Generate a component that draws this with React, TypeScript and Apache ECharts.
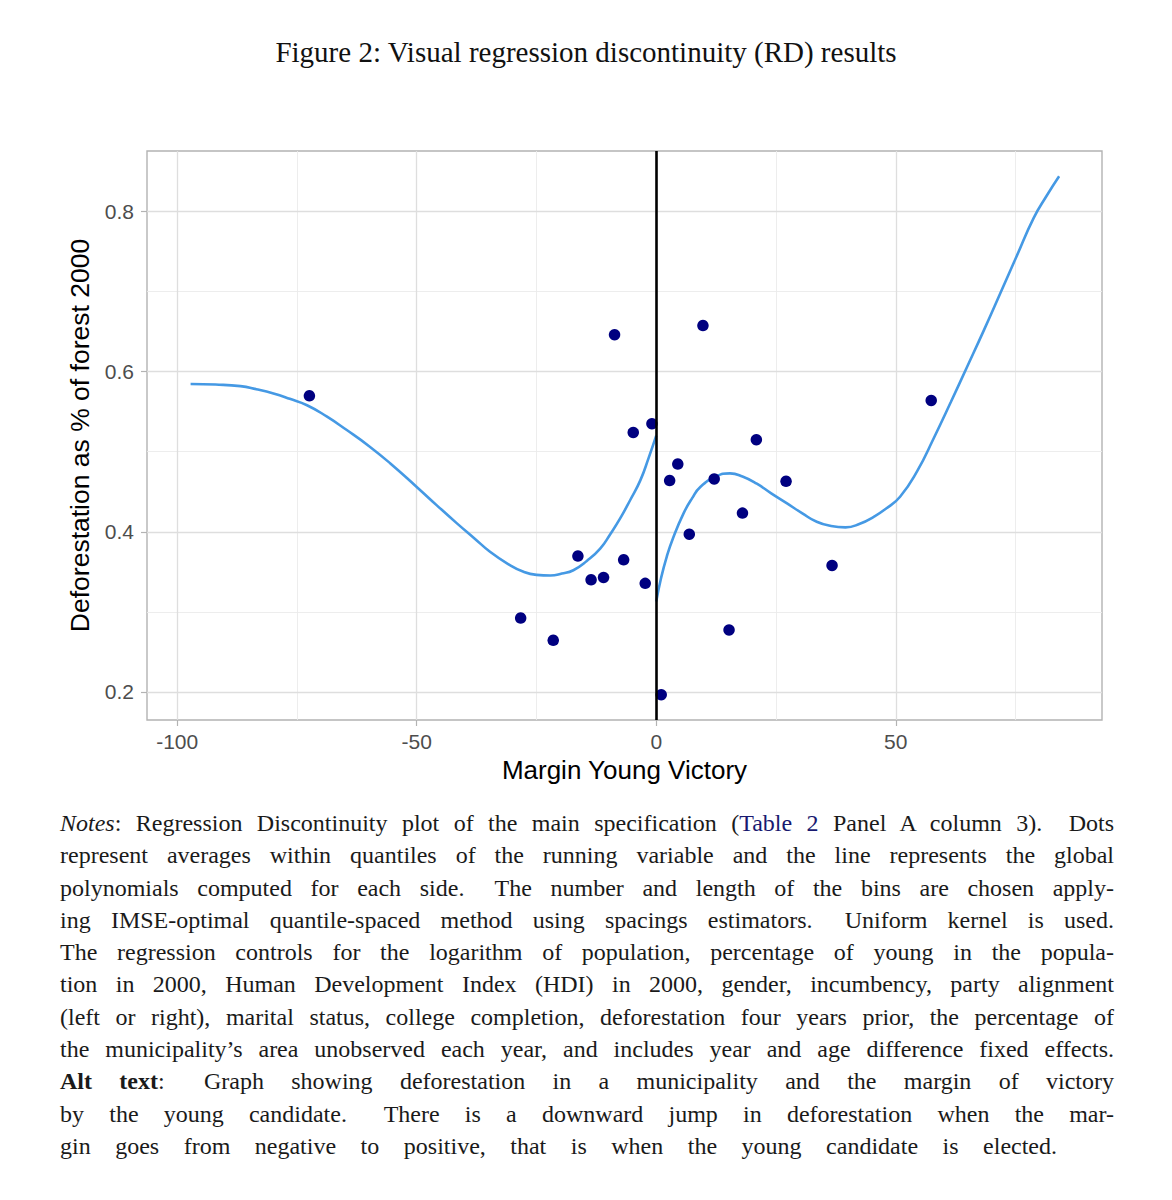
import React, { useEffect, useRef } from "react";
import * as echarts from "echarts";

// ---- Text ----
const TITLE = "Figure 2: Visual regression discontinuity (RD) results";
const X_TITLE = "Margin Young Victory";
const Y_TITLE = "Deforestation as % of forest 2000";

// ---- Axis ticks ----
const X_TICKS = [-100, -50, 0, 50];
const X_MINOR = [-75, -25, 25, 75];
const Y_TICKS = [0.2, 0.4, 0.6, 0.8];
const Y_MINOR = [0.3, 0.5, 0.7];
const X_MIN = -106.3;
const X_MAX = 93.05;
const Y_MIN = 0.165;
const Y_MAX = 0.8754;
const CUTOFF = 0;

// ---- Bin averages (dots) ----
const DOT_X = [
  -72.4, -28.3, -21.5, -16.35, -13.6, -11.0, -8.7, -6.8, -4.8, -2.3, -0.9,
  1.04, 2.8, 4.5, 6.9, 9.75, 12.1, 15.2, 18.0, 20.9, 27.1, 36.7, 57.4,
];
const DOT_Y = [
  0.5697, 0.2923, 0.2645, 0.3697, 0.34, 0.343, 0.646, 0.365, 0.524, 0.3356, 0.535,
  0.1966, 0.464, 0.4845, 0.397, 0.6575, 0.466, 0.2774, 0.4233, 0.515, 0.463, 0.358, 0.564,
];

// ---- Global polynomial fits ----
const FIT_LEFT_X = [
  -97.2, -92, -86.8, -83.5, -79.9, -76.5, -72.9, -68.8, -64.6, -60, -55.5, -50, -45.8, -41.6, -38, -34.7,
  -31, -27.7, -25, -22.1, -19.7, -17.3, -14.5, -11.7, -9.6, -7.5, -5.4, -3.3, -1.6, 0,
];
const FIT_LEFT_Y = [
  0.5845, 0.5838, 0.5818, 0.578, 0.5727, 0.566, 0.558, 0.544, 0.527, 0.5072, 0.4853, 0.456, 0.433, 0.4105, 0.392, 0.375,
  0.36, 0.35, 0.3462, 0.3455, 0.3478, 0.352, 0.3635, 0.379, 0.397, 0.417, 0.44, 0.4645, 0.492, 0.52,
];
const FIT_RIGHT_X = [
  0, 1, 2.2, 3.5, 5.7, 7.5, 9.2, 12.5, 15.4, 18, 21.0, 24, 27.3, 30.5, 33.5, 36.5, 39.5, 42.5, 45.4, 48, 50.9,
  54.5, 57.9, 61.5, 64.9, 68.5, 71.8, 75.3, 78.8, 81.5, 84.1,
];
const FIT_RIGHT_Y = [
  0.313, 0.342, 0.369, 0.392, 0.423, 0.442, 0.456, 0.469, 0.4729, 0.469, 0.46, 0.448, 0.4354, 0.423, 0.4125, 0.4072, 0.4055, 0.41, 0.4187, 0.429, 0.4437,
  0.476, 0.5165, 0.562, 0.606, 0.653, 0.6975, 0.745, 0.792, 0.8195, 0.8438,
];

// ---- Notes (one entry per printed line) ----
type Seg = { t: string; k?: "i" | "b" | "a" };
const NOTE_LINES: Seg[][] = [
  [{ t: "Notes", k: "i" }, { t: ":  Regression Discontinuity plot of the main specification (" }, { t: "Table 2", k: "a" }, { t: " Panel A column 3).\u2002 Dots" }],
  [{ t: "represent averages within quantiles of the running variable and the line represents the global" }],
  [{ t: "polynomials computed for each side.\u2002 The number and length of the bins are chosen apply-" }],
  [{ t: "ing IMSE-optimal quantile-spaced method using spacings estimators.\u2002 Uniform kernel is used." }],
  [{ t: "The regression controls for the logarithm of population, percentage of young in the popula-" }],
  [{ t: "tion in 2000, Human Development Index (HDI) in 2000, gender, incumbency, party alignment" }],
  [{ t: "(left or right), marital status, college completion, deforestation four years prior, the percentage of" }],
  [{ t: "the municipality\u2019s area unobserved each year, and includes year and age difference fixed effects." }],
  [{ t: "Alt text", k: "b" }, { t: ":\u2002 Graph showing deforestation in a municipality and the margin of victory" }],
  [{ t: "by the young candidate.\u2002 There is a downward jump in deforestation when the mar-" }],
  [{ t: "gin goes from negative to positive, that is when the young candidate is elected." }],
];

const zip = (xs: number[], ys: number[]) => xs.map((x, i) => [x, ys[i]]);

function Chart() {
  const ref = useRef<HTMLDivElement>(null);
  useEffect(() => {
    if (!ref.current) return;
    const chart = echarts.init(ref.current, null, { renderer: "svg" });
    const dots = zip(DOT_X, DOT_Y);
    const major = { color: "#dedede", width: 1.3, type: "solid" };
    const minor = { color: "#ebebeb", width: 0.9, type: "solid" };
    const gridLines = [
      ...X_MINOR.map((v) => ({ xAxis: v, lineStyle: minor })),
      ...Y_MINOR.map((v) => ({ yAxis: v, lineStyle: minor })),
      ...X_TICKS.map((v) => ({ xAxis: v, lineStyle: major })),
      ...Y_TICKS.map((v) => ({ yAxis: v, lineStyle: major })),
    ];
    const fitStyle = { color: "#4599e4", width: 2.6 };
    const option: any = {
      animation: false,
      textStyle: { fontFamily: "'Liberation Sans', Arial, sans-serif" },
      title: {
        text: TITLE,
        left: "center",
        top: 29.5,
        padding: 0,
        textStyle: { fontFamily: "'Liberation Serif', serif", fontSize: 29, fontWeight: "normal", color: "#111" },
      },
      grid: {
        left: 139,
        top: 143,
        width: 955,
        height: 569,
        show: true,
        borderColor: "#b3b3b3",
        borderWidth: 1.4,
        backgroundColor: "transparent",
      },
      xAxis: {
        type: "value",
        min: X_MIN,
        max: X_MAX,
        name: X_TITLE,
        nameLocation: "middle",
        nameGap: 36,
        nameTextStyle: { fontSize: 26, color: "#000" },
        axisLine: { show: false, onZero: false },
        splitLine: { show: false },
        axisTick: { show: true, customValues: X_TICKS, length: 6, lineStyle: { color: "#b3b3b3", width: 1.2 } },
        axisLabel: { customValues: X_TICKS, fontSize: 21, color: "#4d4d4d", margin: 11, formatter: (v: number) => String(v) },
      },
      yAxis: {
        type: "value",
        min: Y_MIN,
        max: Y_MAX,
        name: Y_TITLE,
        nameLocation: "middle",
        nameGap: 46,
        nameTextStyle: { fontSize: 26.5, color: "#000" },
        axisLine: { show: false, onZero: false },
        splitLine: { show: false },
        axisTick: { show: true, customValues: Y_TICKS, length: 6, lineStyle: { color: "#b3b3b3", width: 1.2 } },
        axisLabel: { customValues: Y_TICKS, fontSize: 21, color: "#4d4d4d", margin: 13, formatter: (v: number) => v.toFixed(1) },
      },
      series: [
        {
          type: "scatter",
          data: dots,
          symbolSize: 0,
          silent: true,
          itemStyle: { opacity: 0 },
          z: 1,
          markLine: { silent: true, z: 1, symbol: ["none", "none"], label: { show: false }, animation: false, data: gridLines },
        },
        {
          type: "line",
          data: zip(FIT_LEFT_X, FIT_LEFT_Y),
          smooth: 0.5,
          showSymbol: false,
          silent: true,
          lineStyle: fitStyle,
          z: 3,
        },
        {
          type: "line",
          data: zip(FIT_RIGHT_X, FIT_RIGHT_Y),
          smooth: 0.5,
          showSymbol: false,
          silent: true,
          lineStyle: fitStyle,
          z: 3,
        },
        {
          type: "scatter",
          data: dots,
          symbolSize: 11.5,
          silent: true,
          itemStyle: { color: "#000080", opacity: 1 },
          z: 4,
        },
        {
          type: "scatter",
          data: dots,
          symbolSize: 0,
          silent: true,
          itemStyle: { opacity: 0 },
          z: 6,
          markLine: {
            silent: true,
            z: 6,
            symbol: ["none", "none"],
            label: { show: false },
            animation: false,
            data: [{ xAxis: CUTOFF, lineStyle: { color: "#000", width: 2.6, type: "solid" } }],
          },
        },
      ],
    };
    chart.setOption(option);
    return () => chart.dispose();
  }, []);
  return <div ref={ref} style={{ width: 1156, height: 799 }} />;
}

function Notes() {
  const n = NOTE_LINES.length;
  return (
    <div
      style={{
        marginLeft: 52,
        width: 1054,
        fontFamily: "'Liberation Serif', serif",
        fontSize: 24,
        lineHeight: "32.3px",
        color: "#1a1a1a",
      }}
    >
      {NOTE_LINES.map((line, i) => (
        <div
          key={i}
          style={{
            textAlign: "justify",
            textAlignLast: "justify",
            width: i === n - 1 ? 997 : 1054,
          }}
        >
          {line.map((s, j) => (
            <span
              key={j}
              style={{
                fontStyle: s.k === "i" ? "italic" : "normal",
                fontWeight: s.k === "b" ? "bold" : "normal",
                color: s.k === "a" ? "#191970" : undefined,
              }}
            >
              {s.t}
            </span>
          ))}
        </div>
      ))}
    </div>
  );
}

export default function App() {
  return (
    <div>
      <Chart />
      <Notes />
    </div>
  );
}
